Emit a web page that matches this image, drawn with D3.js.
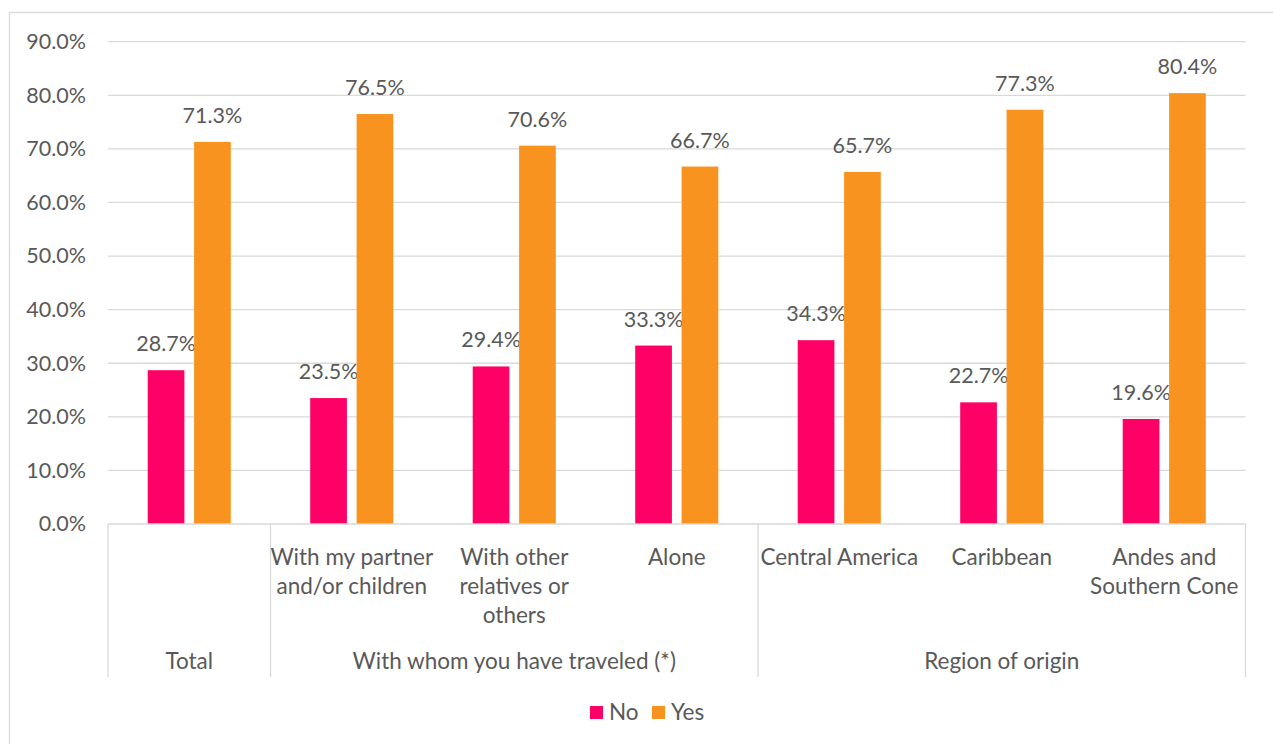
<!DOCTYPE html>
<html>
<head>
<meta charset="utf-8">
<script src="https://cdn.jsdelivr.net/npm/d3@7"></script>
<style>
  html, body { margin: 0; padding: 0; background: #fff; }
  svg { display: block; }
  text { font-family: Lato, "Liberation Sans", sans-serif; fill: #595959; }
</style>
</head>
<body>
<svg id="chart" width="1273" height="744"></svg>
<script>
// ---- data ----
const categories = ["Total", "Partner", "Relatives", "Alone", "Central America", "Caribbean", "Andes"];
const categoryLabels = [
  [],
  ["With my partner", "and/or children"],
  ["With other", "relatives or", "others"],
  ["Alone"],
  ["Central America"],
  ["Caribbean"],
  ["Andes and", "Southern Cone"]
];
const groupNames = ["Total", "With whom you have traveled (*)", "Region of origin"];
const groupSizes = [1, 3, 3];
const seriesNames = ["No", "Yes"];
const noValues  = [28.7, 23.5, 29.4, 33.3, 34.3, 22.7, 19.6];
const yesValues = [71.3, 76.5, 70.6, 66.7, 65.7, 77.3, 80.4];
const yTicks = [0, 10, 20, 30, 40, 50, 60, 70, 80, 90];
const seriesColors = ["#FF0066", "#F7931E"];

// ---- layout ----
const svg = d3.select("#chart");
const W = 1273, H = 744;
const plot = { left: 108, right: 1245.5, top: 41.7, bottom: 524 };
const grid = "#D9D9D9";
const FS = "21.5px";
const FSC = "22.5px";

// outer chart border
svg.append("rect").attr("x", 9.5).attr("y", 12.5).attr("width", W + 20).attr("height", H + 20)
  .attr("fill", "none").attr("stroke", grid).attr("stroke-width", 1.3);

const x0 = d3.scaleBand().domain(categories).range([plot.left, plot.right]).padding(0);
const x1 = d3.scaleBand().domain(seriesNames).range([0, x0.bandwidth()])
  .paddingInner(0.209).paddingOuter(0.856);
const y = d3.scaleLinear().domain([0, 90]).range([plot.bottom, plot.top]);

// gridlines
svg.append("g").selectAll("line").data(yTicks.filter(d => d > 0)).join("line")
  .attr("x1", plot.left).attr("x2", plot.right)
  .attr("y1", d => y(d)).attr("y2", d => y(d))
  .attr("stroke", grid).attr("stroke-width", 1.3);

// y axis labels
const yAxis = d3.axisLeft(y).tickValues(yTicks).tickFormat(d => d3.format(".1f")(d) + "%")
  .tickSize(0).tickPadding(22);
const ya = svg.append("g").attr("transform", `translate(${plot.left},0)`).call(yAxis);
ya.select(".domain").remove();
ya.selectAll("text").style("font-size", FS).attr("fill", "#595959")
  .style("font-family", "Lato, 'Liberation Sans', sans-serif");

// bars
const rows = categories.map((c, i) => ({ cat: c, vals: [noValues[i], yesValues[i]] }));
const gBars = svg.append("g");
rows.forEach(r => {
  r.vals.forEach((v, j) => {
    const s = seriesNames[j];
    const bx = x0(r.cat) + x1(s);
    gBars.append("rect")
      .attr("x", bx).attr("width", x1.bandwidth())
      .attr("y", y(v)).attr("height", y(0) - y(v))
      .attr("fill", seriesColors[j]);
    gBars.append("text")
      .attr("x", bx + x1.bandwidth() / 2).attr("y", y(v) - 19)
      .attr("text-anchor", "middle").style("font-size", FS)
      .text(d3.format(".1f")(v) + "%");
  });
});

// category axis: baseline
const axisBottom = 677;
svg.append("line").attr("x1", plot.left).attr("x2", plot.right)
  .attr("y1", plot.bottom).attr("y2", plot.bottom)
  .attr("stroke", grid).attr("stroke-width", 1.3);

// group boundaries
let idx = 0;
const bounds = [0];
groupSizes.forEach(n => { idx += n; bounds.push(idx); });
bounds.forEach(b => {
  const bx = b < categories.length ? x0(categories[b]) : plot.right;
  svg.append("line").attr("x1", bx).attr("x2", bx)
    .attr("y1", plot.bottom).attr("y2", axisBottom)
    .attr("stroke", grid).attr("stroke-width", 1.3);
});

// category labels
categories.forEach((c, i) => {
  const cx = x0(c) + x0.bandwidth() / 2;
  const t = svg.append("text").attr("text-anchor", "middle").style("font-size", FSC);
  categoryLabels[i].forEach((line, k) => {
    t.append("tspan").attr("x", cx).attr("y", 557 + k * 29).attr("dy", "0.35em").text(line);
  });
});

// group labels
groupNames.forEach((g, gi) => {
  const a = x0(categories[bounds[gi]]);
  const b = bounds[gi + 1] < categories.length ? x0(categories[bounds[gi + 1]]) : plot.right;
  svg.append("text").attr("x", (a + b) / 2).attr("y", 661.5).attr("dy", "0.35em")
    .attr("text-anchor", "middle").style("font-size", FSC).text(g);
});

// legend
const legend = svg.append("g");
const legX = [590, 652];
seriesNames.forEach((s, j) => {
  legend.append("rect").attr("x", legX[j]).attr("y", 706).attr("width", 13).attr("height", 13)
    .attr("fill", seriesColors[j]);
  legend.append("text").attr("x", legX[j] + 19).attr("y", 712.5).attr("dy", "0.35em")
    .style("font-size", FSC).text(s);
});
</script>
</body>
</html>
